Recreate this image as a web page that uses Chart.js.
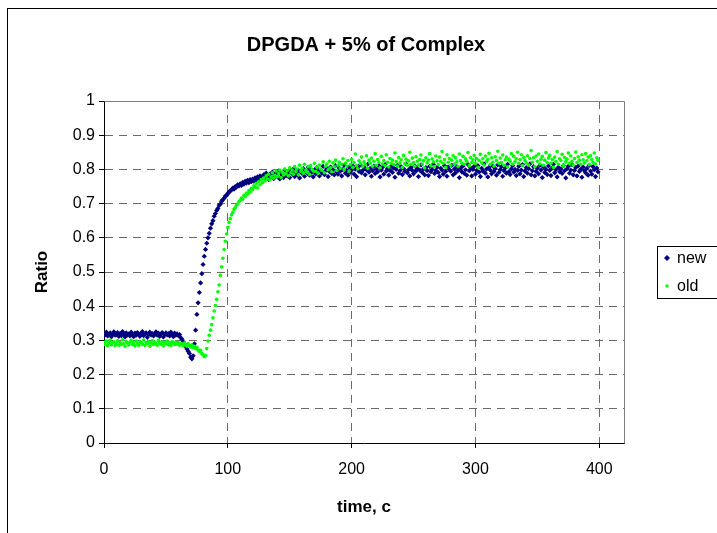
<!DOCTYPE html>
<html><head><meta charset="utf-8">
<script src="https://cdn.jsdelivr.net/npm/chart.js@4.4.0/dist/chart.umd.min.js"></script>
<style>html,body{margin:0;padding:0;background:#fff;overflow:hidden}canvas{display:block}</style>
</head><body>
<canvas id="c" width="717" height="533"></canvas>
<script>
const chartTitle = 'DPGDA + 5% of Complex';
const xTitle = 'time, c';
const yTitle = 'Ratio';
const seriesNames = ['new', 'old'];
const xTicks = [0, 100, 200, 300, 400];
const yTicks = [0, 0.1, 0.2, 0.3, 0.4, 0.5, 0.6, 0.7, 0.8, 0.9, 1];

const time = [
0,1,2,3,4,5,6,7,8,9,10,11,12,13,14,15,16,17,18,19,
20,21,22,23,24,25,26,27,28,29,30,31,32,33,34,35,36,37,38,39,
40,41,42,43,44,45,46,47,48,49,50,51,52,53,54,55,56,57,58,59,
60,61,62,63,64,65,66,67,68,69,70,71,72,73,74,75,76,77,78,79,
80,81,82,83,84,85,86,87,88,89,90,91,92,93,94,95,96,97,98,99,
100,101,102,103,104,105,106,107,108,109,110,111,112,113,114,115,116,117,118,119,
120,121,122,123,124,125,126,127,128,129,130,131,132,133,134,135,136,137,138,139,
140,141,142,143,144,145,146,147,148,149,150,151,152,153,154,155,156,157,158,159,
160,161,162,163,164,165,166,167,168,169,170,171,172,173,174,175,176,177,178,179,
180,181,182,183,184,185,186,187,188,189,190,191,192,193,194,195,196,197,198,199,
200,201,202,203,204,205,206,207,208,209,210,211,212,213,214,215,216,217,218,219,
220,221,222,223,224,225,226,227,228,229,230,231,232,233,234,235,236,237,238,239,
240,241,242,243,244,245,246,247,248,249,250,251,252,253,254,255,256,257,258,259,
260,261,262,263,264,265,266,267,268,269,270,271,272,273,274,275,276,277,278,279,
280,281,282,283,284,285,286,287,288,289,290,291,292,293,294,295,296,297,298,299,
300,301,302,303,304,305,306,307,308,309,310,311,312,313,314,315,316,317,318,319,
320,321,322,323,324,325,326,327,328,329,330,331,332,333,334,335,336,337,338,339,
340,341,342,343,344,345,346,347,348,349,350,351,352,353,354,355,356,357,358,359,
360,361,362,363,364,365,366,367,368,369,370,371,372,373,374,375,376,377,378,379,
380,381,382,383,384,385,386,387,388,389,390,391,392,393,394,395,396,397,398,399
];

const ratioNew = [
0.321,0.316,0.324,0.313,0.318,0.322,0.311,0.319,0.325,0.315,
0.317,0.323,0.312,0.320,0.314,0.326,0.318,0.310,0.322,0.316,
0.319,0.313,0.324,0.317,0.311,0.321,0.315,0.323,0.318,0.312,
0.320,0.326,0.314,0.318,0.322,0.309,0.317,0.324,0.316,0.320,
0.313,0.319,0.325,0.315,0.321,0.312,0.318,0.323,0.310,0.317,
0.322,0.316,0.320,0.313,0.324,0.318,0.311,0.321,0.315,0.319,
0.314,0.317,0.308,0.303,0.296,0.290,0.282,0.275,0.268,0.262,
0.251,0.246,0.255,0.290,0.330,0.376,0.410,0.440,0.468,0.495,
0.522,0.546,0.566,0.584,0.600,0.613,0.628,0.641,0.650,0.663,
0.671,0.680,0.686,0.695,0.699,0.707,0.711,0.716,0.722,0.724,
0.730,0.733,0.738,0.740,0.745,0.742,0.750,0.748,0.755,0.752,
0.758,0.753,0.762,0.757,0.765,0.760,0.768,0.761,0.770,0.764,
0.772,0.766,0.775,0.769,0.778,0.771,0.781,0.773,0.777,0.784,
0.774,0.789,0.781,0.770,0.786,0.778,0.792,0.773,0.784,0.789,
0.779,0.795,0.772,0.788,0.783,0.776,0.798,0.785,0.781,0.790,
0.776,0.794,0.787,0.801,0.779,0.791,0.784,0.797,0.775,0.793,
0.788,0.802,0.780,0.795,0.790,0.806,0.783,0.797,0.792,0.778,
0.799,0.787,0.805,0.793,0.781,0.798,0.790,0.809,0.785,0.796,
0.802,0.779,0.794,0.807,0.788,0.799,0.784,0.811,0.793,0.786,
0.804,0.795,0.781,0.800,0.812,0.789,0.797,0.783,0.806,0.792,
0.798,0.810,0.786,0.801,0.779,0.805,0.794,0.813,0.790,0.797,
0.807,0.784,0.799,0.815,0.792,0.803,0.780,0.796,0.809,0.788,
0.801,0.793,0.811,0.778,0.798,0.806,0.786,0.814,0.795,0.802,
0.783,0.797,0.809,0.791,0.804,0.777,0.800,0.812,0.789,0.796,
0.808,0.785,0.802,0.794,0.816,0.790,0.799,0.781,0.806,0.797,
0.787,0.810,0.795,0.803,0.779,0.798,0.813,0.791,0.801,0.784,
0.805,0.796,0.782,0.809,0.793,0.800,0.815,0.788,0.797,0.806,
0.791,0.779,0.803,0.798,0.786,0.811,0.794,0.780,0.807,0.799,
0.795,0.812,0.784,0.801,0.790,0.808,0.797,0.776,0.804,0.793,
0.810,0.788,0.799,0.783,0.814,0.796,0.805,0.781,0.800,0.809,
0.786,0.797,0.811,0.792,0.779,0.803,0.795,0.816,0.789,0.801,
0.778,0.806,0.798,0.787,0.810,0.794,0.802,0.783,0.813,0.791,
0.799,0.808,0.780,0.796,0.804,0.789,0.815,0.793,0.785,0.801,
0.811,0.792,0.800,0.782,0.797,0.809,0.787,0.798,0.814,0.779,
0.795,0.805,0.789,0.802,0.816,0.784,0.796,0.808,0.781,0.794,
0.803,0.787,0.812,0.798,0.776,0.807,0.791,0.800,0.785,0.810,
0.797,0.782,0.804,0.815,0.790,0.799,0.778,0.806,0.793,0.801,
0.788,0.811,0.796,0.775,0.802,0.809,0.789,0.798,0.814,0.784,
0.797,0.805,0.781,0.810,0.794,0.800,0.777,0.807,0.796,0.790,
0.803,0.783,0.812,0.795,0.786,0.808,0.799,0.779,0.804,0.793
];

const ratioOld = [
0.295,0.288,0.298,0.284,0.292,0.300,0.287,0.293,0.296,0.285,
0.291,0.299,0.286,0.294,0.289,0.302,0.290,0.283,0.297,0.292,
0.287,0.295,0.300,0.288,0.293,0.284,0.298,0.291,0.286,0.296,
0.293,0.289,0.301,0.285,0.294,0.290,0.297,0.283,0.292,0.299,
0.288,0.295,0.291,0.286,0.300,0.293,0.289,0.296,0.284,0.294,
0.290,0.298,0.287,0.293,0.285,0.297,0.292,0.288,0.295,0.289,
0.294,0.286,0.291,0.289,0.284,0.292,0.287,0.283,0.290,0.285,
0.281,0.287,0.279,0.283,0.276,0.280,0.272,0.268,0.271,0.262,
0.258,0.252,0.256,0.276,0.298,0.315,0.330,0.346,0.366,0.386,
0.402,0.420,0.442,0.462,0.490,0.515,0.540,0.566,0.590,0.611,
0.630,0.645,0.656,0.667,0.674,0.683,0.688,0.695,0.699,0.706,
0.709,0.716,0.713,0.724,0.720,0.731,0.727,0.738,0.733,0.745,
0.741,0.752,0.748,0.759,0.746,0.764,0.755,0.770,0.761,0.775,
0.766,0.781,0.772,0.786,0.769,0.778,0.790,0.774,0.783,0.795,
0.779,0.788,0.798,0.776,0.792,0.784,0.801,0.787,0.796,0.781,
0.805,0.790,0.798,0.786,0.808,0.793,0.801,0.784,0.812,0.795,
0.803,0.789,0.815,0.798,0.792,0.808,0.785,0.811,0.800,0.795,
0.818,0.794,0.806,0.789,0.813,0.801,0.797,0.822,0.790,0.809,
0.816,0.799,0.824,0.805,0.793,0.819,0.808,0.827,0.797,0.812,
0.821,0.803,0.815,0.831,0.800,0.818,0.809,0.826,0.795,0.814,
0.829,0.806,0.820,0.845,0.811,0.802,0.825,0.817,0.836,0.808,
0.822,0.814,0.840,0.803,0.827,0.818,0.833,0.809,0.824,0.846,
0.812,0.829,0.820,0.805,0.838,0.816,0.826,0.811,0.843,0.821,
0.807,0.832,0.818,0.827,0.814,0.848,0.823,0.810,0.835,0.819,
0.828,0.806,0.841,0.817,0.830,0.812,0.825,0.850,0.815,0.833,
0.820,0.809,0.837,0.824,0.813,0.829,0.842,0.816,0.826,0.804,
0.834,0.819,0.827,0.846,0.811,0.831,0.822,0.808,0.839,0.825,
0.814,0.836,0.823,0.852,0.818,0.829,0.806,0.843,0.821,0.832,
0.812,0.827,0.840,0.816,0.834,0.822,0.809,0.845,0.826,0.818,
0.838,0.815,0.830,0.824,0.849,0.811,0.835,0.820,0.828,0.841,
0.817,0.832,0.806,0.826,0.844,0.819,0.831,0.813,0.839,0.823,
0.829,0.847,0.815,0.834,0.821,0.810,0.837,0.826,0.853,0.818,
0.833,0.820,0.842,0.812,0.828,0.836,0.807,0.830,0.824,0.846,
0.815,0.838,0.822,0.831,0.850,0.817,0.829,0.843,0.811,0.835,
0.826,0.819,0.840,0.813,0.832,0.855,0.821,0.834,0.808,0.839,
0.824,0.845,0.816,0.830,0.838,0.812,0.827,0.849,0.820,0.833,
0.841,0.818,0.829,0.806,0.836,0.823,0.852,0.815,0.831,0.826,
0.844,0.811,0.835,0.822,0.830,0.848,0.817,0.839,0.824,0.813,
0.832,0.851,0.820,0.837,0.827,0.815,0.843,0.828,0.819,0.846,
0.825,0.836,0.814,0.840,0.829,0.821,0.848,0.816,0.834,0.827
];

const FONT = "'Liberation Sans', Arial, sans-serif";
const colorNew = '#000080';
const colorOld = '#00ff00';
const gridColor = '#6a6a6a';

const decorPlugin = {
  id: 'decor',
  beforeDraw(chart) {
    const ctx = chart.ctx;
    ctx.save();
    ctx.fillStyle = '#fff';
    ctx.fillRect(0, 0, chart.width, chart.height);
    ctx.strokeStyle = '#000';
    ctx.lineWidth = 1;
    ctx.strokeRect(7.5, 8.5, 800, 600);
    ctx.restore();
  },
  afterDraw(chart) {
    const ctx = chart.ctx;
    const a = chart.chartArea;
    ctx.save();
    ctx.strokeStyle = '#808080';
    ctx.lineWidth = 1;
    ctx.beginPath();
    ctx.moveTo(Math.round(a.left) + 0.5, Math.round(a.top) + 0.5);
    ctx.lineTo(Math.round(a.right) + 0.5, Math.round(a.top) + 0.5);
    ctx.lineTo(Math.round(a.right) + 0.5, Math.round(a.bottom) + 0.5);
    ctx.stroke();
    ctx.fillStyle = '#000';
    ctx.font = 'bold 20px ' + FONT;
    ctx.textAlign = 'center';
    ctx.textBaseline = 'middle';
    ctx.fillText(chartTitle, 366, 45);
    ctx.strokeStyle = '#000';
    ctx.strokeRect(657.5, 246.5, 90, 52);
    ctx.font = '16px ' + FONT;
    ctx.textAlign = 'left';
    const items = [{y: 258, c: colorNew, s: 'rectRot', r: 2.5}, {y: 286, c: colorOld, s: 'circle', r: 1.7}];
    items.forEach((it, i) => {
      ctx.fillStyle = it.c;
      ctx.beginPath();
      if (it.s === 'rectRot') {
        ctx.moveTo(667, it.y - 3); ctx.lineTo(670, it.y); ctx.lineTo(667, it.y + 3); ctx.lineTo(664, it.y); ctx.closePath();
      } else {
        ctx.arc(667, it.y, it.r, 0, Math.PI * 2);
      }
      ctx.fill();
      ctx.fillStyle = '#000';
      ctx.fillText(seriesNames[i], 677, it.y + 1);
    });
    ctx.restore();
  }
};

new Chart(document.getElementById('c'), {
  type: 'scatter',
  data: {
    datasets: [
      {
        label: seriesNames[0],
        data: time.map((t, i) => ({x: t, y: ratioNew[i]})),
        backgroundColor: colorNew,
        borderColor: colorNew,
        pointStyle: 'rectRot',
        pointRadius: 2.6,
        borderWidth: 0,
        order: 1
      },
      {
        label: seriesNames[1],
        data: time.map((t, i) => ({x: t, y: ratioOld[i]})),
        backgroundColor: colorOld,
        borderColor: colorOld,
        pointStyle: 'circle',
        pointRadius: 1.8,
        borderWidth: 0,
        order: 0
      }
    ]
  },
  options: {
    responsive: false,
    animation: false,
    events: [],
    layout: {padding: {left: 10, right: 93, top: 101, bottom: 10}},
    plugins: {legend: {display: false}, tooltip: {enabled: false}, title: {display: false}},
    scales: {
      x: {
        type: 'linear',
        min: 0,
        max: 420,
        afterFit(s) { s.height = 80; },
        afterBuildTicks(s) { s.ticks = xTicks.map(v => ({value: v})); },
        ticks: {color: '#000', font: {family: FONT, size: 16}, padding: 12, maxRotation: 0,
          callback: v => String(v)},
        grid: {color: c => (c.tick && c.tick.value === 0) ? 'rgba(0,0,0,0)' : gridColor,
          tickColor: '#000', tickLength: 5, borderDash: [8, 6]},
        border: {display: true, color: '#000', width: 1, dash: [8, 6]},
        title: {display: true, text: xTitle, color: '#000', font: {family: FONT, size: 17, weight: 'bold'}, padding: {top: 0, bottom: 5}}
      },
      y: {
        min: 0,
        max: 1,
        afterFit(s) { s.width = 94; },
        afterBuildTicks(s) { s.ticks = yTicks.map(v => ({value: v})); },
        ticks: {color: '#000', font: {family: FONT, size: 16}, padding: 4,
          callback: v => String(Math.round(v * 10) / 10)},
        grid: {color: c => (c.tick && (c.tick.value === 0 || c.tick.value === 1)) ? 'rgba(0,0,0,0)' : gridColor,
          tickColor: '#000', tickLength: 5, borderDash: [8, 6]},
        border: {display: true, color: '#000', width: 1, dash: [8, 6]},
        title: {display: true, text: yTitle, color: '#000', font: {family: FONT, size: 17, weight: 'bold'}, padding: {top: 22, bottom: 0}}
      }
    }
  },
  plugins: [decorPlugin]
});
</script>
</body></html>
